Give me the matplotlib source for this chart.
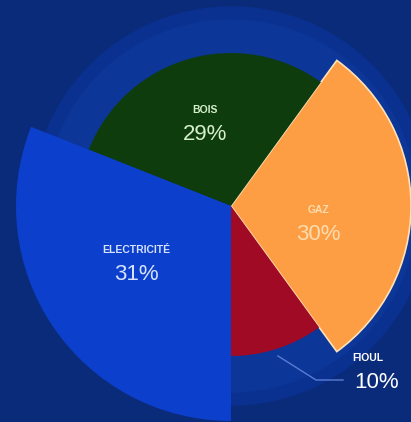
import matplotlib.pyplot as plt
from matplotlib.patches import Circle

# data (counter-clockwise from the lower right edge of GAZ)
categories = ['GAZ', 'BOIS', 'ELECTRICITÉ', 'FIOUL']
shares = [30, 29, 31, 10]
pct_labels = ['30%', '29%', '31%', '10%']

# style
colors = ['#fd9e45', '#0f3c0d', '#0c40cc', '#a00a24']
radii = [180, 153, 215, 150]
name_colors = ['#fcdcae', '#d6efcc', '#d6e2ff', '#ffffff']
pct_colors = ['#fcdcae', '#d6efcc', '#d6e2ff', '#ffffff']
label_xy = [(318, 200), (205, 300), (136, 160), (372, 52)]

W, H = 411, 422
cx, cy = 231, H - 206

fig = plt.figure(figsize=(W / 100, H / 100), dpi=100)
fig.patch.set_facecolor('#0a2b7a')
ax = fig.add_axes([0, 0, 1, 1])
ax.set_facecolor('#0a2b7a')

ax.add_patch(Circle((cx, cy), 199, color='#0b3190', zorder=0))
ax.add_patch(Circle((cx, cy), 186, color='#0c3698', zorder=0))

wedges, _ = ax.pie(shares, colors=colors, startangle=-54, counterclock=True,
                   center=(cx, cy), radius=150, frame=True,
                   wedgeprops={'linewidth': 0})
for w, r in zip(wedges, radii):
    w.set_radius(r)
    w.set_zorder(2)
wedges[0].set_edgecolor('#ffe3b8')
wedges[0].set_linewidth(1.2)

fam = ['Liberation Sans', 'DejaVu Sans']
for i, (name, pct) in enumerate(zip(categories, pct_labels)):
    x, y = label_xy[i]
    dx = 9 if name == 'FIOUL' else 0
    ax.text(x - dx / 2, y + 12, name, color=name_colors[i], fontsize=7.5,
            fontweight='bold', ha='center', va='center', family=fam, zorder=3)
    ax.text(x + dx / 2, y - 12, pct, color=pct_colors[i], fontsize=16,
            ha='center', va='center', family=fam, zorder=3)

# leader line for FIOUL
ax.plot([278, 316, 343], [H - 356, H - 380, H - 380], color='#5b7cd4', lw=1, zorder=3)

ax.set_xlim(0, W)
ax.set_ylim(0, H)
ax.set_aspect('equal')
ax.axis('off')

fig.savefig('out.png', dpi=100, facecolor=fig.get_facecolor())
